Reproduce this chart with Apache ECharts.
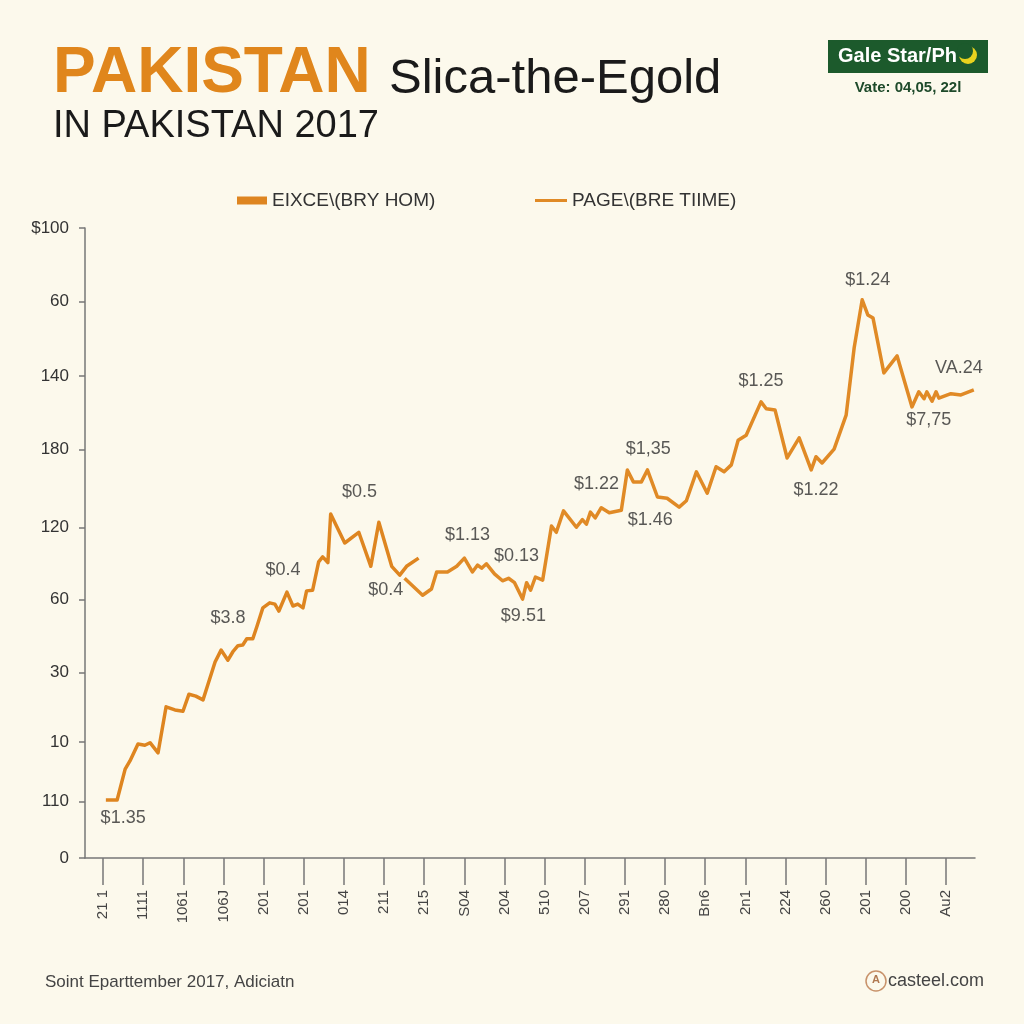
<!DOCTYPE html>
<html>
<head>
<meta charset="utf-8">
<script src="https://cdn.jsdelivr.net/npm/echarts@6/dist/echarts.min.js"></script>
<style>
  html, body { margin: 0; padding: 0; background: #FCF9EC; }
  #chart { width: 1024px; height: 1024px; }
</style>
</head>
<body>
<div id="chart"></div>
<script>
// ---------- data ----------
const seriesNames = ['EIXCE\\(BRY HOM)', 'PAGE\\(BRE TIIME)'];

const xTickValues = [0,1,2,3,4,5,6,7,8,9,10,11,12,13,14,15,16,17,18,19,20,21];
const xTickLabels = ['21 1','1111','1061','106J','201','201','014','211','215','S04','204',
                     '510','207','291','280','Bn6','2n1','224','260','201','200','Au2'];

const yTickValues = [0, 9, 18.4, 29.4, 41, 52.5, 64.8, 76.5, 88.3, 100];
const yTickLabels = ['0','110','10','30','60','120','180','140','60','$100'];

// first series (left part)
const seriesAX = [0.07,0.35,0.55,0.67,0.87,1.04,1.17,1.37,1.57,1.79,1.99,2.14,2.31,2.49,2.61,2.79,2.94,3.11,3.23,3.36,3.48,3.58,3.73,3.83,3.98,4.15,4.28,4.38,4.58,4.73,4.85,4.98,5.07,5.22,5.37,5.47,5.60,5.67,6.02,6.37,6.67,6.87,7.19,7.39,7.56,7.86];
const seriesAY = [9.2,9.2,14.1,15.4,18.1,17.9,18.3,16.7,24.0,23.5,23.3,26.0,25.7,25.1,27.5,31.1,33.0,31.4,32.7,33.7,33.8,34.8,34.8,36.7,39.7,40.5,40.3,39.2,42.2,40.0,40.3,39.7,42.4,42.5,47.0,47.8,46.9,54.6,50.0,51.7,46.3,53.3,46.3,44.9,46.3,47.6];

// second series (right part)
const seriesBX = [7.51,7.96,8.18,8.31,8.58,8.81,9.00,9.20,9.33,9.43,9.55,9.75,9.95,10.10,10.25,10.45,10.55,10.65,10.77,10.95,11.17,11.29,11.47,11.79,11.94,12.04,12.14,12.26,12.41,12.61,12.91,13.06,13.21,13.41,13.56,13.81,14.05,14.35,14.53,14.78,15.05,15.27,15.47,15.65,15.82,16.02,16.39,16.52,16.74,17.04,17.34,17.64,17.76,17.91,18.21,18.51,18.71,18.91,19.05,19.18,19.45,19.78,20.15,20.32,20.45,20.52,20.65,20.75,20.82,21.12,21.37,21.69];
const seriesBY = [44.4,41.7,42.7,45.4,45.4,46.3,47.6,45.4,46.5,46.0,46.7,45.1,44.0,44.4,43.7,41.1,43.7,42.5,44.6,44.1,52.7,51.7,55.1,52.5,53.7,53.0,54.9,54.0,55.6,54.8,55.2,61.6,59.7,59.7,61.6,57.3,57.1,55.7,56.7,61.3,57.9,62.1,61.3,62.4,66.3,67.1,72.4,71.3,71.1,63.5,66.7,61.6,63.7,62.7,64.9,70.3,81.0,88.6,86.2,85.7,77.0,79.7,71.6,74.0,72.9,74.0,72.5,74.0,73.0,73.7,73.5,74.3];

// annotations
const annText = ['$1.35','$3.8','$0.4','$0.5','$0.4','$1.13','$0.13','$9.51','$1.22','$1,35','$1.46','$1.25','$1.22','$1.24','VA.24','$7,75'];
const annX = [0.50,3.11,4.48,6.39,7.04,9.08,10.30,10.47,12.29,13.58,13.63,16.39,17.76,19.05,21.32,20.57];
const annY = [6.3,38.1,45.7,58.1,42.5,51.3,47.9,38.4,59.4,64.9,53.7,75.7,58.4,91.7,77.8,69.5];

// ---------- chart ----------
const chart = echarts.init(document.getElementById('chart'), null, { renderer: 'canvas' });
const FONT = '"Liberation Sans", Arial, sans-serif';

const option = {
  backgroundColor: '#FCF9EC',
  animation: false,
  title: [
    { text: 'PAKISTAN', left: 48, top: 37,
      textStyle: { fontFamily: FONT, fontSize: 64, fontWeight: 'bold', color: '#E0861C', lineHeight: 64 } },
    { text: 'Slica-the-Egold', left: 384, top: 50,
      textStyle: { fontFamily: FONT, fontSize: 49, fontWeight: 'normal', color: '#1a1a1a', lineHeight: 49 } },
    { text: 'IN PAKISTAN 2017', left: 48, top: 103,
      textStyle: { fontFamily: FONT, fontSize: 38, fontWeight: 'normal', color: '#1a1a1a', lineHeight: 38 } }
  ],
  legend: [
    { data: [seriesNames[0]], left: 232, top: 186, icon: 'rect', itemWidth: 30, itemHeight: 8, itemGap: 6,
      textStyle: { fontFamily: FONT, fontSize: 19, color: '#333' } },
    { data: [seriesNames[1]], left: 530, top: 186, icon: 'rect', itemWidth: 32, itemHeight: 3, itemGap: 6,
      textStyle: { fontFamily: FONT, fontSize: 19, color: '#333' } }
  ],
  grid: { left: 85, right: 49, top: 228, bottom: 166, containLabel: false },
  xAxis: {
    type: 'value', min: -0.45, max: 21.72,
    axisLine: { show: true, onZero: false, lineStyle: { color: '#777', width: 1.5 } },
    axisTick: { show: true, customValues: xTickValues, length: 27, lineStyle: { color: '#777', width: 1.5 } },
    axisLabel: { show: true, customValues: xTickValues, rotate: 90, margin: 32,
      fontFamily: FONT, fontSize: 15, color: '#444',
      formatter: v => { const i = xTickValues.indexOf(Math.round(v)); return i >= 0 ? xTickLabels[i] : ''; } },
    splitLine: { show: false }
  },
  yAxis: {
    type: 'value', min: 0, max: 100,
    axisLine: { show: true, onZero: false, lineStyle: { color: '#777', width: 1.5 } },
    axisTick: { show: true, customValues: yTickValues, length: 6, lineStyle: { color: '#777', width: 1.5 } },
    axisLabel: { show: true, customValues: yTickValues, margin: 16,
      fontFamily: FONT, fontSize: 17, color: '#333',
      formatter: v => { let best = 0; yTickValues.forEach((t, i) => { if (Math.abs(t - v) < Math.abs(yTickValues[best] - v)) best = i; }); return yTickLabels[best]; } },
    splitLine: { show: false }
  },
  series: [
    { name: seriesNames[0], type: 'line', showSymbol: false, color: '#DE8520',
      lineStyle: { width: 3.5, color: '#DE8520', join: 'round' },
      data: seriesAX.map((x, i) => [x, seriesAY[i]]) },
    { name: seriesNames[1], type: 'line', showSymbol: false, color: '#E08A26',
      lineStyle: { width: 3.5, color: '#E08A26', join: 'round' },
      data: seriesBX.map((x, i) => [x, seriesBY[i]]) },
    { name: 'ann', type: 'scatter', symbolSize: 0, silent: true,
      data: annX.map((x, i) => [x, annY[i], annText[i]]),
      label: { show: true, position: 'inside', formatter: p => p.data[2],
        fontFamily: FONT, fontSize: 18, color: '#2f2f2f' } }
  ],
  graphic: [
    { type: 'rect', left: 828, top: 40, shape: { width: 160, height: 33 }, style: { fill: '#1C5A2C' } },
    { type: 'text', left: 838, top: 46, style: { text: 'Gale Star/Ph', fill: '#fff', font: 'bold 20px ' + FONT } },
    { type: 'circle', shape: { cx: 968, cy: 55, r: 9 }, style: { fill: '#E8D21E' } },
    { type: 'circle', shape: { cx: 965, cy: 51, r: 8 }, style: { fill: '#1C5A2C' } },
    { type: 'text', x: 908, y: 88, style: { text: 'Vate: 04,05, 22l', fill: '#1E4A2A', font: 'bold 15px ' + FONT, textAlign: 'center', textVerticalAlign: 'middle' } },
    { type: 'text', x: 45, y: 982, style: { text: 'Soint Eparttember 2017, Adiciatn', fill: '#444', font: '17px ' + FONT, textVerticalAlign: 'middle' } },
    { type: 'circle', shape: { cx: 876, cy: 981, r: 10 }, style: { fill: 'none', stroke: '#C8926A', lineWidth: 1.5 } },
    { type: 'text', x: 876, y: 980, style: { text: 'A', fill: '#B07850', font: 'bold 11px ' + FONT, textAlign: 'center', textVerticalAlign: 'middle' } },
    { type: 'text', x: 888, y: 981, style: { text: 'casteel.com', fill: '#444', font: '18px ' + FONT, textVerticalAlign: 'middle' } }
  ]
};
chart.setOption(option);
</script>
</body>
</html>
